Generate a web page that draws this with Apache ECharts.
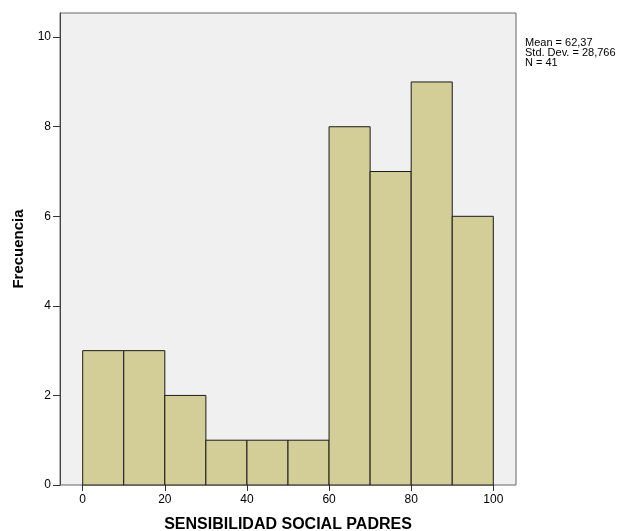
<!DOCTYPE html>
<html><head><meta charset="utf-8">
<script src="https://cdn.jsdelivr.net/npm/echarts@6/dist/echarts.min.js"></script>
<style>html,body{margin:0;padding:0;background:#fff}#c{width:624px;height:531px}</style>
</head><body><div id="c"></div>
<script>
var binStarts = [0, 10, 20, 30, 40, 50, 60, 70, 80, 90];
var binWidth = 10;
var frequencies = [3, 3, 2, 1, 1, 1, 8, 7, 9, 6];
var xTicks = [0, 20, 40, 60, 80, 100];
var yTicks = [0, 2, 4, 6, 8, 10];
var statsLines = ['Mean = 62,37', 'Std. Dev. = 28,766', 'N = 41'];

var chart = echarts.init(document.getElementById('c'), null, {renderer: 'canvas'});
var data = binStarts.map(function (s, i) { return [s, s + binWidth, frequencies[i]]; });
var font = 'Liberation Sans, Arial, sans-serif';
chart.setOption({
  animation: false,
  backgroundColor: '#fff',
  grid: [
    {left: 60, right: 108, top: 13, bottom: 46, show: true, backgroundColor: '#f0f0f0', borderColor: '#666', borderWidth: 1, containLabel: false, outerBoundsMode: 'none'},
    {left: 82.7, right: 130.7, top: 13, bottom: 46, containLabel: false, outerBoundsMode: 'none'}
  ],
  xAxis: [
    {gridIndex: 0, type: 'value', min: -5.5, max: 105.6, show: false},
    {gridIndex: 1, type: 'value', min: 0, max: 100, interval: 20,
     axisLine: {show: false, onZero: false}, splitLine: {show: false},
     axisTick: {show: true, inside: false, length: 6, customValues: xTicks, lineStyle: {color: '#333'}},
     axisLabel: {color: '#000', fontFamily: font, fontSize: 12, margin: 9, customValues: xTicks},
     name: 'SENSIBILIDAD SOCIAL PADRES', nameLocation: 'middle', nameGap: 32,
     nameTextStyle: {color: '#000', fontFamily: font, fontSize: 16, fontWeight: 'bold'}}
  ],
  yAxis: [
    {gridIndex: 0, type: 'value', min: 0, max: 10.54,
     axisLine: {show: true, onZero: false, lineStyle: {color: '#444'}}, splitLine: {show: false},
     axisTick: {show: true, inside: false, length: 7, customValues: yTicks, lineStyle: {color: '#333'}},
     axisLabel: {color: '#000', fontFamily: font, fontSize: 12, margin: 9, customValues: yTicks},
     name: 'Frecuencia', nameLocation: 'middle', nameGap: 31, nameRotate: 90,
     nameTextStyle: {color: '#000', fontFamily: font, fontSize: 15, fontWeight: 'bold'}},
    {gridIndex: 1, type: 'value', min: 0, max: 10.54, show: false}
  ],
  graphic: [{
    type: 'text', left: 525, top: 37,
    style: {text: statsLines.join('\n'), fontFamily: font, fontSize: 11, lineHeight: 10, fill: '#000'}
  }],
  series: [{
    type: 'custom', xAxisIndex: 1, yAxisIndex: 1,
    data: data,
    encode: {x: [0, 1], y: 2},
    renderItem: function (params, api) {
      var p0 = api.coord([api.value(0), api.value(2)]);
      var p1 = api.coord([api.value(1), 0]);
      return {type: 'rect', shape: {x: p0[0], y: p0[1], width: p1[0] - p0[0], height: p1[1] - p0[1]},
        style: {fill: '#d3ce97', stroke: '#1a1a1a', lineWidth: 1}};
    }
  }]
});
</script></body></html>
